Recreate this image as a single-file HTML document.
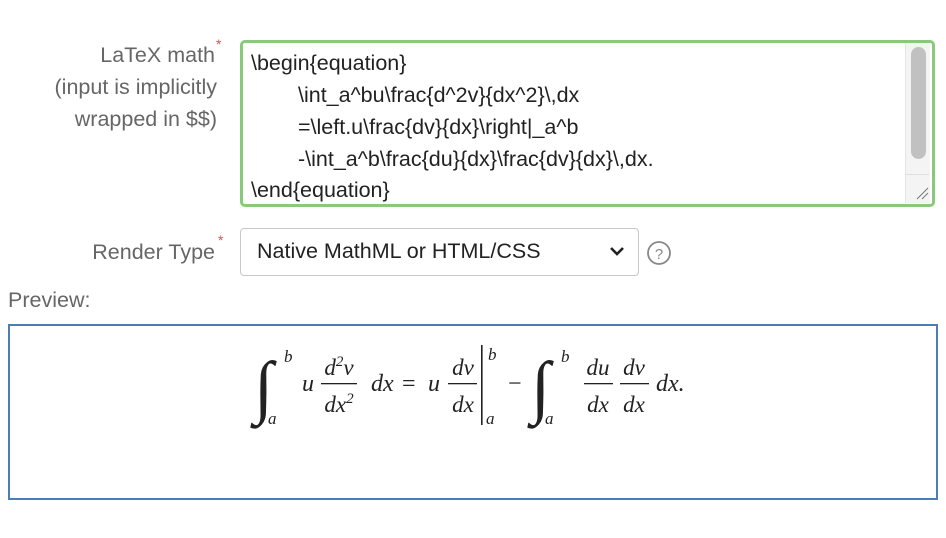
<!DOCTYPE html>
<html><head><meta charset="utf-8"><style>
body{margin:0;width:946px;height:538px;background:#fff;position:relative;font-family:"Liberation Sans",sans-serif;overflow:hidden}
.a{position:absolute;white-space:nowrap}
.lbl{color:#666;font-size:21.5px;text-align:right;right:731px}
.ast{color:#d9534f;font-size:14px}
.ta{left:240px;top:40px;width:689px;height:161px;border:3px solid #8bc97a;border-radius:5px}
.tl{color:#222;font-size:21.5px}
</style></head><body>
<div class="a lbl" style="top:43px">LaTeX math</div><div class="a ast" style="left:216px;top:36px">*</div>
<div class="a lbl" style="top:75px;right:729px">(input is implicitly</div>
<div class="a lbl" style="top:107px;right:729px">wrapped in $$)</div>
<div class="a ta"></div>
<div class="a" style="left:905px;top:43px;width:24px;height:160px;background:#f4f4f4;border-left:1px solid #e4e4e4"></div>
<div class="a" style="left:911px;top:47px;width:15px;height:112px;background:#c1c1c1;border-radius:8px"></div>
<div class="a" style="left:905px;top:174px;width:24px;height:1px;background:#e0e0e0"></div>
<svg class="a" style="left:915px;top:185px" width="14" height="16"><path d="M2 14L13 3M7 14L13 8" stroke="#777" stroke-width="1"/></svg>
<div class="a tl" style="left:251px;top:51px">\begin{equation}</div>
<div class="a tl" style="left:298px;top:83px">\int_a^bu\frac{d^2v}{dx^2}\,dx</div>
<div class="a tl" style="left:298px;top:115px">=\left.u\frac{dv}{dx}\right|_a^b</div>
<div class="a tl" style="left:298px;top:147px">-\int_a^b\frac{du}{dx}\frac{dv}{dx}\,dx.</div>
<div class="a tl" style="left:251px;top:178px">\end{equation}</div>
<div class="a lbl" style="top:240px">Render Type</div><div class="a ast" style="left:218px;top:232px">*</div>
<div class="a" style="left:240px;top:228px;width:397px;height:46px;border:1px solid #c8c8c8;border-radius:4px"></div>
<div class="a" style="left:257px;top:239px;font-size:21.5px;color:#222">Native MathML or HTML/CSS</div>
<svg class="a" style="left:609px;top:246px" width="16" height="12"><path d="M2 2L8 8L14 2" stroke="#222" stroke-width="2.6" fill="none"/></svg>
<svg class="a" style="left:646px;top:240px" width="26" height="26"><circle cx="13" cy="13" r="11" fill="none" stroke="#888" stroke-width="1.8"/><text x="13" y="19" text-anchor="middle" font-size="15" fill="#888" font-family="Liberation Sans">?</text></svg>
<div class="a" style="left:8px;top:288px;font-size:21.5px;color:#666">Preview:</div>
<div class="a" style="left:8px;top:324px;width:926px;height:172px;border:2px solid #4a7eb5"></div>
<svg class="a" style="left:0;top:0" width="946" height="538" font-family="Liberation Serif,serif" font-style="italic" fill="#222">
<text x="254" y="410" font-size="70" font-style="italic" transform="translate(0,0)">∫</text>
<text x="284" y="362" font-size="17">b</text><text x="268" y="424" font-size="17">a</text>
<text x="302" y="391" font-size="24">u</text>
<text x="339" y="375" font-size="23" text-anchor="middle">d<tspan font-size="15" dy="-9">2</tspan><tspan dy="9">v</tspan></text>
<rect x="321" y="383" width="36" height="1.3"/>
<text x="339" y="412" font-size="23" text-anchor="middle">dx<tspan font-size="15" dy="-9">2</tspan></text>
<text x="371" y="391" font-size="24">dx</text>
<text x="402" y="391" font-size="24" font-style="normal">=</text>
<text x="428" y="391" font-size="24">u</text>
<text x="463" y="375" font-size="23" text-anchor="middle">dv</text>
<rect x="448" y="383" width="29" height="1.3"/>
<text x="463" y="412" font-size="23" text-anchor="middle">dx</text>
<rect x="481" y="345" width="1.6" height="80"/>
<text x="488" y="360" font-size="17">b</text><text x="486" y="424" font-size="17">a</text>
<text x="508" y="391" font-size="24" font-style="normal">−</text>
<text x="531" y="410" font-size="70" font-style="italic">∫</text>
<text x="561" y="362" font-size="17">b</text><text x="545" y="424" font-size="17">a</text>
<text x="598" y="375" font-size="23" text-anchor="middle">du</text>
<rect x="584" y="383" width="29" height="1.3"/>
<text x="598" y="412" font-size="23" text-anchor="middle">dx</text>
<text x="634" y="375" font-size="23" text-anchor="middle">dv</text>
<rect x="620" y="383" width="29" height="1.3"/>
<text x="634" y="412" font-size="23" text-anchor="middle">dx</text>
<text x="656" y="391" font-size="24">dx.</text>
</svg>
</body></html>
